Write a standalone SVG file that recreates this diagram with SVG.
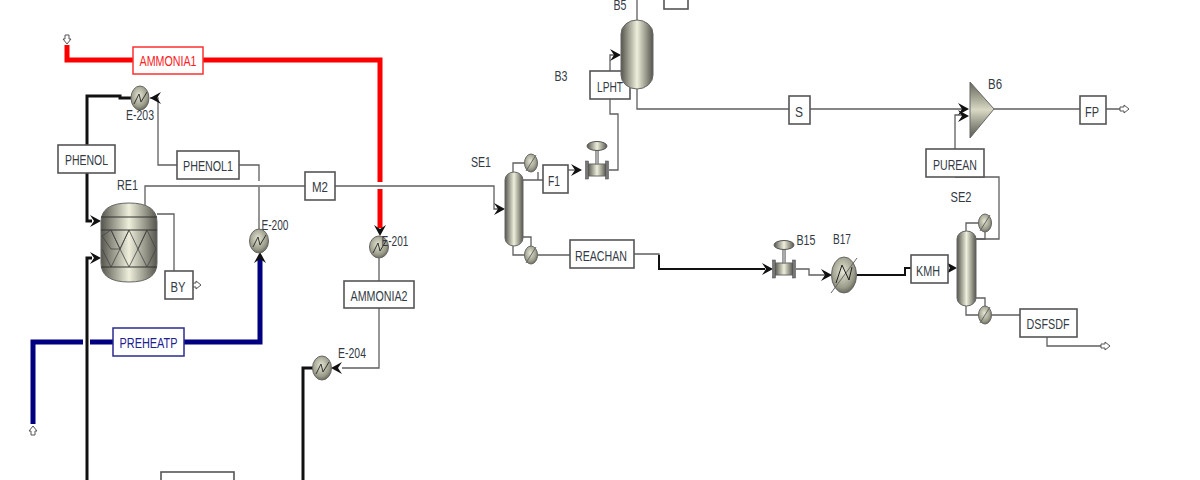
<svg xmlns="http://www.w3.org/2000/svg" width="1200" height="480" viewBox="0 0 1200 480">
<style>
text{font-family:"Liberation Sans",Arial,sans-serif;font-size:14px;fill:#333a44;text-anchor:middle;lengthAdjust:spacingAndGlyphs}
.box{fill:#fff;stroke:#555;stroke-width:1.6}
.thin{fill:none;stroke:#5f5f5f;stroke-width:1.3}
.bk{fill:none;stroke:#111;stroke-width:3}
.red{fill:none;stroke:#fb0000;stroke-width:5}
.navy{fill:none;stroke:#000080;stroke-width:5}
.eq{stroke:#55554a;stroke-width:1}
.hx{fill:url(#ball);stroke:#666;stroke-width:1}
.zig{fill:none;stroke:#333;stroke-width:1}
.port{fill:#fff;stroke:#555;stroke-width:1}
.tick{stroke:#666;stroke-width:1}
.hd{fill:#111}
</style>
<defs>
<linearGradient id="col" x1="0" x2="1" y1="0" y2="0">
<stop offset="0" stop-color="#55554d"/><stop offset=".5" stop-color="#efefdc"/><stop offset="1" stop-color="#55554d"/>
</linearGradient>
<radialGradient id="ball" cx=".45" cy=".4" r=".65">
<stop offset="0" stop-color="#e6e6d4"/><stop offset=".7" stop-color="#9a9a88"/><stop offset="1" stop-color="#5c5c52"/>
</radialGradient>
<linearGradient id="tri" x1="0" x2="0" y1="0" y2="1">
<stop offset="0" stop-color="#66665a"/><stop offset=".5" stop-color="#d8d8c4"/><stop offset="1" stop-color="#55554d"/>
</linearGradient>
<path id="ah" class="hd" d="M0 0L-11 -6L-7 0L-11 6Z"/>
<path id="port" class="port" d="M-2 -5H2V-1H4L0 4L-4 -1H-2Z"/>
<g id="valve">
<rect x="-9" y="-6" width="18" height="12" fill="url(#col)" stroke="#666"/>
<rect x="-11.500" y="-9" width="3" height="18" fill="#777" stroke="#444" stroke-width=".5"/>
<rect x="8.500" y="-9" width="3" height="18" fill="#777" stroke="#444" stroke-width=".5"/>
<rect x="-1.500" y="-20" width="3" height="14" fill="#aaa" stroke="#666" stroke-width=".5"/>
<ellipse cx="0" cy="-24" rx="10" ry="4.500" fill="url(#col)" stroke="#555"/>
</g>
<g id="cond">
<ellipse rx="6.500" ry="9" class="hx"/>
<path class="tick" d="M-5 8L5 -8"/>
</g>
</defs>

<g id="connectors">
<path class="red" d="M67 45V60H133M203 60H380V182M380 189V228"/>
<path class="navy" d="M33 424V342H83M90 342H113M184 342H260V258"/>
<path class="bk" d="M87 145V96H120V98H131"/>
<path class="bk" d="M87 173V221H92"/>
<path class="bk" d="M87 480V258H92"/>
<path class="bk" d="M313 368H303V480"/>
<path class="bk" stroke-width="2" style="stroke-width:2" d="M659 255V269H765"/>
<path class="bk" style="stroke-width:2" d="M857 275H905V268H911"/>
<path class="thin" d="M239 165H259V181M259 187V229"/>
<path class="thin" d="M177 165H158V98H150"/>
<path class="thin" d="M145 205V186H305M335 186H494V209H500"/>
<path class="thin" d="M157 214H174V271"/>
<path class="thin" d="M379 258V281M379 308V368H342"/>
<path class="thin" d="M513 172V163H524M523 180H538V172M523 180H543"/>
<path class="thin" d="M568 170H575"/>
<path class="thin" d="M513 246V255H524M523 237H531V246"/>
<path class="thin" d="M538 255H570M634 254H659V255"/>
<path class="thin" d="M609 170H618V114H610V99M610 71V55H616"/>
<path class="thin" d="M637 20V0M637 89V109H789M810 109H962M994 109H1080M1106 109H1121"/>
<path class="thin" d="M955 149V115H962"/>
<path class="thin" d="M955 177H999V239H976"/>
<path class="thin" d="M966 231V223H979M976 239H985V232"/>
<path class="thin" d="M966 306V315H979M976 298H985V307"/>
<path class="thin" d="M992 315H1020M1047 337V346H1103"/>
<path class="thin" d="M796 269H809V275H826"/>
<use href="#ah" transform="translate(150 98) rotate(180)"/>
<use href="#ah" transform="translate(101 221)"/>
<use href="#ah" transform="translate(101 258)"/>
<use href="#ah" transform="translate(260 252) rotate(-90)"/>
<use href="#ah" transform="translate(380 236) rotate(90)"/>
<use href="#ah" transform="translate(331 368) rotate(180)"/>
<use href="#ah" transform="translate(505 209)"/>
<use href="#ah" transform="translate(582 170)"/>
<use href="#ah" transform="translate(621 55)"/>
<use href="#ah" transform="translate(969 109)"/>
<use href="#ah" transform="translate(969 116)"/>
<use href="#ah" transform="translate(773 269)"/>
<use href="#ah" transform="translate(832 275)"/>
<use href="#ah" transform="translate(957 268)"/>
<use href="#port" transform="translate(67 40)"/>
<use href="#port" transform="translate(33 430) rotate(180)"/>
<use href="#port" transform="translate(197 285) rotate(-90)"/>
<use href="#port" transform="translate(1125 109) rotate(-90)"/>
<use href="#port" transform="translate(1106 346) rotate(-90)"/>
</g>

<g id="AMMONIA1"><rect x="133" y="47" width="70" height="27" fill="#fff" stroke="#fb3030" stroke-width="1.500"/><text x="168" y="66" style="fill:#fb2020" textLength="57" lengthAdjust="spacingAndGlyphs">AMMONIA1</text></g>
<g id="PHENOL"><rect class="box" x="58" y="145" width="57" height="28"/><text x="86.500" y="165" textLength="43" lengthAdjust="spacingAndGlyphs">PHENOL</text></g>
<g id="PHENOL1"><rect class="box" x="177" y="151" width="62" height="28"/><text x="208" y="171" textLength="50" lengthAdjust="spacingAndGlyphs">PHENOL1</text></g>
<g id="M2"><rect class="box" x="305" y="172" width="30" height="28"/><text x="320" y="192" textLength="16" lengthAdjust="spacingAndGlyphs">M2</text></g>
<g id="BY"><rect class="box" x="165" y="271" width="28" height="28"/><text x="178" y="292" textLength="15" lengthAdjust="spacingAndGlyphs">BY</text></g>
<g id="PREHEATP"><rect x="113" y="328" width="71" height="28" fill="#fff" stroke="#2a2a90" stroke-width="1.500"/><text x="148.500" y="348" style="fill:#202090" textLength="58" lengthAdjust="spacingAndGlyphs">PREHEATP</text></g>
<g id="AMMONIA2"><rect class="box" x="344" y="281" width="70" height="27"/><text x="379" y="301" textLength="57" lengthAdjust="spacingAndGlyphs">AMMONIA2</text></g>
<g id="F1"><rect class="box" x="543" y="165" width="25" height="28"/><text x="554" y="186" textLength="12" lengthAdjust="spacingAndGlyphs">F1</text></g>
<g id="LPHT"><rect class="box" x="590" y="71" width="40" height="28"/><text x="610" y="92" textLength="26" lengthAdjust="spacingAndGlyphs">LPHT</text></g>
<g id="W"><rect class="box" x="664" y="-10" width="24" height="19"/></g>
<g id="REACHAN"><rect class="box" x="570" y="240" width="64" height="28"/><text x="601" y="261" textLength="52" lengthAdjust="spacingAndGlyphs">REACHAN</text></g>
<g id="S"><rect class="box" x="789" y="96" width="21" height="28"/><text x="799" y="117" textLength="8" lengthAdjust="spacingAndGlyphs">S</text></g>
<g id="PUREAN"><rect class="box" x="926" y="149" width="58" height="28"/><text x="955" y="170" textLength="44" lengthAdjust="spacingAndGlyphs">PUREAN</text></g>
<g id="KMH"><rect class="box" x="911" y="255" width="37" height="28"/><text x="928" y="276" textLength="24" lengthAdjust="spacingAndGlyphs">KMH</text></g>
<g id="FP"><rect class="box" x="1080" y="96" width="26" height="28"/><text x="1092" y="117" textLength="14" lengthAdjust="spacingAndGlyphs">FP</text></g>
<g id="DSFSDF"><rect class="box" x="1020" y="309" width="57" height="28"/><text x="1048" y="329" textLength="43" lengthAdjust="spacingAndGlyphs">DSFSDF</text></g>
<g id="UNNAMED"><rect class="box" x="161" y="472" width="73" height="20"/></g>

<g id="RE1-unit">
<path d="M101 222Q101 203 129 203Q157 203 157 222V263Q157 282 129 282Q101 282 101 263Z" fill="url(#col)" stroke="#666"/>
<path d="M101 217H157M101 230H157M101 267H157" stroke="#333" stroke-width="1.200" fill="none"/>
<path d="M102 236L111 230L120 249L129 230L138 249L147 230L156 249M102 249L111 267L120 249L129 267L138 249L147 267L156 249M111 230L120 249L111 249L102 236M129 230L120 249M147 230L138 249" fill="none" stroke="#444" stroke-width=".8"/>
<text x="127.500" y="190" textLength="21" lengthAdjust="spacingAndGlyphs">RE1</text>
</g>
<g id="E-203"><ellipse cx="140" cy="98" rx="9" ry="12" class="hx"/><path class="zig" d="M134 104L139 94L141 102L147 92"/><text x="140" y="120" textLength="28" lengthAdjust="spacingAndGlyphs">E-203</text></g>
<g id="E-200"><ellipse cx="259" cy="241" rx="9.500" ry="12" class="hx"/><path class="zig" d="M253 247L258 237L260 245L266 235"/><text x="275" y="230" textLength="27" lengthAdjust="spacingAndGlyphs">E-200</text></g>
<g id="E-201"><ellipse cx="379" cy="247" rx="9.500" ry="11" class="hx"/><path class="zig" d="M373 253L378 243L380 251L386 241"/><text x="395" y="246" textLength="27" lengthAdjust="spacingAndGlyphs">E-201</text></g>
<g id="E-204"><ellipse cx="322" cy="368" rx="9.500" ry="12" class="hx"/><path class="zig" d="M316 374L321 364L323 372L329 362"/><text x="352" y="358" textLength="28" lengthAdjust="spacingAndGlyphs">E-204</text></g>

<g id="SE1">
<rect x="505" y="172" width="18" height="74" rx="9" ry="8" fill="url(#col)" stroke="#666"/>
<use href="#cond" x="531" y="163"/><use href="#cond" x="531" y="255"/>
<text x="481" y="167" textLength="20" lengthAdjust="spacingAndGlyphs">SE1</text>
</g>
<g id="B1-valve"><use href="#valve" x="597" y="170"/></g>
<g id="B5">
<rect x="621" y="20" width="32" height="69" rx="16" ry="14" fill="url(#col)" stroke="#666"/>
<text x="620" y="10" textLength="13" lengthAdjust="spacingAndGlyphs">B5</text>
</g>
<g id="B3"><text x="561" y="81" textLength="13" lengthAdjust="spacingAndGlyphs">B3</text></g>
<g id="B6">
<path d="M970 82L994 109L970 138Z" fill="url(#tri)" stroke="#666"/>
<text x="995" y="89" textLength="14" lengthAdjust="spacingAndGlyphs">B6</text>
</g>
<g id="B15"><use href="#valve" x="784" y="269"/><text x="806" y="245" textLength="19" lengthAdjust="spacingAndGlyphs">B15</text></g>
<g id="B17">
<ellipse cx="844" cy="275" rx="12.500" ry="18" class="hx"/>
<path class="tick" d="M831 293L857 258"/>
<path d="M836 283L842 265L849 280L852 267" fill="none" stroke="#222" stroke-width="1"/>
<text x="842" y="244" textLength="18" lengthAdjust="spacingAndGlyphs">B17</text>
</g>
<g id="SE2">
<rect x="957" y="231" width="19" height="75" rx="9.500" ry="8" fill="url(#col)" stroke="#666"/>
<use href="#cond" x="985" y="223"/><use href="#cond" x="985" y="315"/>
<text x="961" y="202" textLength="21" lengthAdjust="spacingAndGlyphs">SE2</text>
</g>
</svg>
